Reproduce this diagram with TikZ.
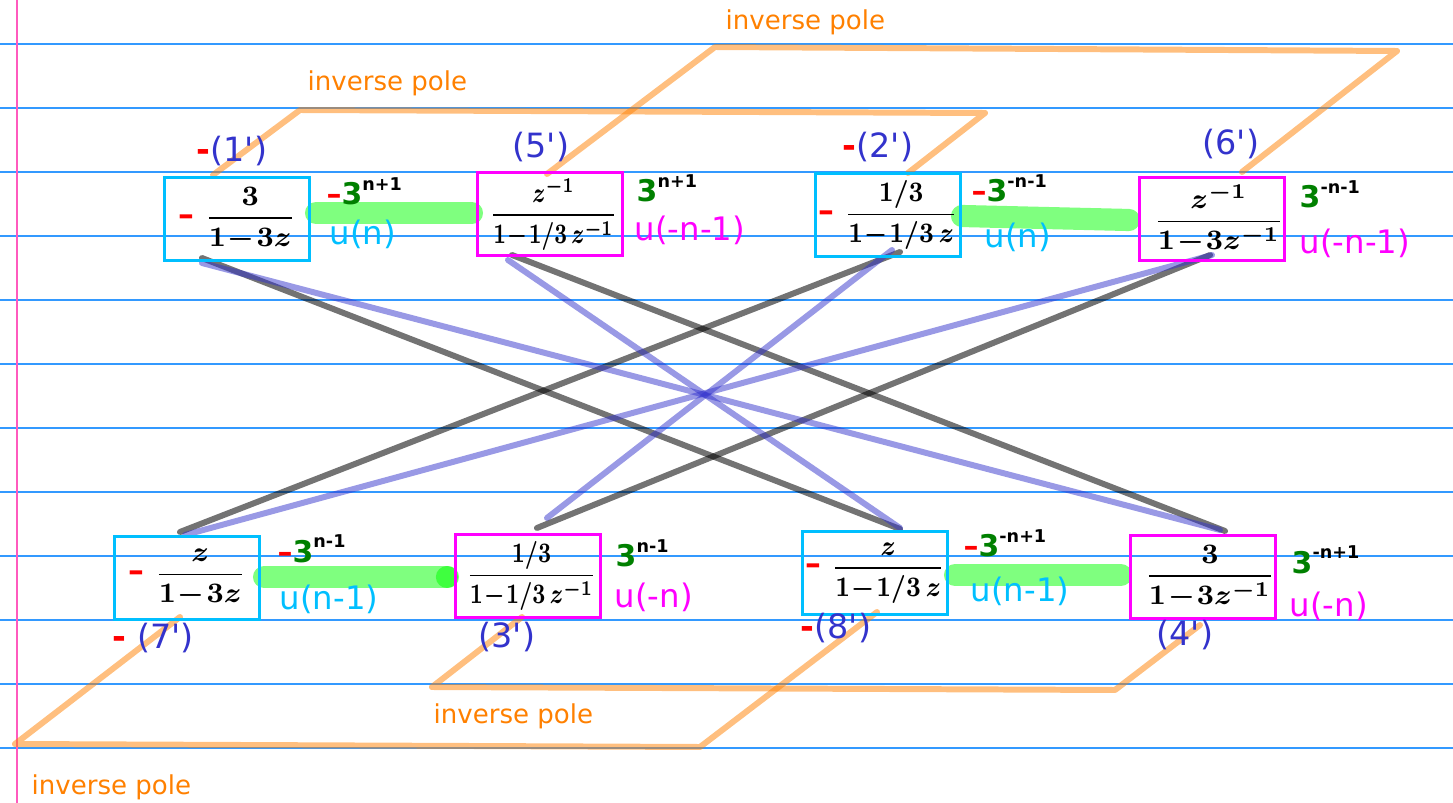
\documentclass[tikz,border=0pt]{standalone}
\usepackage{fontspec}
\setmainfont{DejaVu Sans}
\usepackage{amsmath}
\usepackage{graphicx}
\usetikzlibrary{calc,backgrounds}

\definecolor{zcyan}{RGB}{0,191,255}
\definecolor{zmag}{RGB}{255,0,255}
\definecolor{zblue}{RGB}{51,51,204}
\definecolor{zorange}{RGB}{255,128,0}
\definecolor{zgreen}{RGB}{0,128,0}
\definecolor{rulec}{RGB}{51,153,255}
\definecolor{marginc}{RGB}{255,90,190}

\newcommand{\mns}{\textcolor{red}{\textendash}}
\newcommand{\bmns}{\textcolor{red}{\fontsize{9}{9}\selectfont\bfseries\textendash}\hspace{3pt}}
\newcommand{\pw}[1]{\textcolor{zgreen}{3}\raisebox{4pt}{\fontsize{5}{6}\selectfont #1}}
\newcommand{\kp}[1]{(#1\textquotesingle)}
\newcommand{\sq}[2]{\scalebox{#1}[1]{#2}}

\begin{document}
\begin{tikzpicture}[x=0.01cm, y=-0.01cm,
cbox/.style={draw=zcyan, line width=0.85pt, minimum width=1.45cm, minimum height=0.83cm, inner sep=0pt, font=\fontsize{8}{9}\selectfont\boldmath},
mbox/.style={cbox, draw=zmag},
lbl/.style={inner sep=0pt, anchor=west, text=zblue, font=\fontsize{9.5}{11}\selectfont},
ulbl/.style={inner sep=0pt, anchor=west, font=\fontsize{9.2}{11}\selectfont},
pwr/.style={inner sep=0pt, anchor=base west, font=\fontsize{8.5}{10}\selectfont\bfseries},
ipl/.style={inner sep=0pt, anchor=west, text=zorange, font=\fontsize{7.4}{9}\selectfont},
pole/.style={draw=zorange, draw opacity=0.5, line width=1.7pt, line cap=round, line join=round},
hl/.style={draw=green, draw opacity=0.5, line width=6.3pt, line cap=round},
gline/.style={draw=black, draw opacity=0.55, line width=1.7pt, line cap=round},
bline/.style={draw=zblue, draw opacity=0.5, line width=1.7pt, line cap=round},
rl/.style={draw=rulec, line width=0.4pt}]
\useasboundingbox (0,0) rectangle (1453,803);

\node[cbox] (b1) at (237,219) {\bmns$\dfrac{3}{1\!-\!3z}$};
\node[mbox] (b5) at (550,214) {\hspace{2pt}\sq{0.74}{$\dfrac{z^{-1}}{1\!-\!1/3\,z^{-1}}$}};
\node[cbox] (b2) at (888,215) {\bmns\sq{0.86}{$\dfrac{1/3}{1\!-\!1/3\,z}$}};
\node[mbox] (b6) at (1212,219) {\hspace{4pt}$\dfrac{z^{-1}}{1\!-\!3z^{-1}}$};
\node[cbox] (b7) at (187,578) {\bmns$\dfrac{z}{1\!-\!3z}$};
\node[mbox] (b3) at (528,576) {\hspace{2pt}\sq{0.76}{$\dfrac{1/3}{1\!-\!1/3\,z^{-1}}$}};
\node[cbox] (b8) at (875,573) {\bmns\sq{0.86}{$\dfrac{z}{1\!-\!1/3\,z}$}};
\node[mbox] (b4) at (1203,577) {\hspace{4pt}$\dfrac{3}{1\!-\!3z^{-1}}$};

\node[lbl] (n1) at (196,151) {\textcolor{red}{\bfseries -}\kp{1}};
\node[lbl] (n5) at (512,147) {\kp{5}};
\node[lbl] (n2) at (842,147) {\textcolor{red}{\bfseries -}\kp{2}};
\node[lbl] (n6) at (1202,144) {\kp{6}};
\node[lbl] (n7) at (112,638) {\textcolor{red}{\bfseries -}\hspace{3pt}\kp{7}};
\node[lbl] (n3) at (478,637) {\kp{3}};
\node[lbl] (n8) at (800,628) {\textcolor{red}{\bfseries -}\kp{8}};
\node[lbl] (n4) at (1156,635) {\kp{4}};

\node[ulbl, text=zcyan] (u1) at (329,234) {u(n)};
\node[ulbl, text=zmag] (u5) at (634,230) {u(-n-1)};
\node[ulbl, text=zcyan] (u2) at (984,237) {u(n)};
\node[ulbl, text=zmag] (u6) at (1299,243) {u(-n-1)};
\node[ulbl, text=zcyan] (u7) at (279,599) {u(n-1)};
\node[ulbl, text=zmag] (u3) at (614,597) {u(-n)};
\node[ulbl, text=zcyan] (u8) at (970,591) {u(n-1)};
\node[ulbl, text=zmag] (u4) at (1289,606) {u(-n)};

\node[pwr] (p1) at (326,205) {\mns\pw{n+1}};
\node[pwr] (p5) at (636,202) {\pw{n+1}};
\node[pwr] (p2) at (971,202) {\mns\pw{-n-1}};
\node[pwr] (p6) at (1299,208) {\pw{-n-1}};
\node[pwr] (p7) at (277,562) {\mns\pw{n-1}};
\node[pwr] (p3) at (615,567) {\pw{n-1}};
\node[pwr] (p8) at (963,557) {\mns\pw{-n+1}};
\node[pwr] (p4) at (1291,573) {\pw{-n+1}};

\node[ipl] (ip1) at (307,83) {inverse pole};
\node[ipl] (ip2) at (725,22) {inverse pole};
\node[ipl] (ip3) at (433,716) {inverse pole};
\node[ipl] (ip4) at (31,787) {inverse pole};

\begin{scope}[on background layer]
\foreach \y in {44,108,...,748} \draw[rl] (0,\y) -- (1453,\y);
\draw[draw=marginc, line width=0.5pt] (17,0) -- (17,803);
\draw[pole] ([shift={(-24,-1)}]b1.north) -- (300,110) -- (985,113) -- ([shift={(20,1)}]b2.north);
\draw[pole] ([shift={(-3,3)}]b5.north) -- (715,47) -- (1397,51) -- ([shift={(30,-4)}]b6.north);
\draw[pole] ([shift={(-6,-2)}]b3.south) -- (432,687) -- (1115,690) -- ([shift={(-3,5)}]b4.south);
\draw[pole] ([shift={(-7,-4)}]b7.south) -- (15,744) -- (700,747) -- ([shift={(2,-4)}]b8.south);
\draw[gline] ([shift={(-35,-4)}]b1.south) -- ([shift={(25,-1)}]b8.north);
\draw[gline] ([shift={(-38,-2)}]b5.south) -- ([shift={(22,-3)}]b4.north);
\draw[gline] ([shift={(12,-6)}]b2.south) -- ([shift={(-7,-3)}]b7.north);
\draw[gline] ([shift={(-2,-7)}]b6.south) -- ([shift={(9,-5)}]b3.north);
\draw[bline] ([shift={(-35,1)}]b1.south) -- ([shift={(17,-4)}]b4.north);
\draw[bline] ([shift={(-42,3)}]b5.south) -- ([shift={(25,-2)}]b8.north);
\draw[bline] ([shift={(4,-8)}]b2.south) -- ([shift={(19,-15)}]b3.north);
\draw[bline] ([shift={(0,-7)}]b6.south) -- ([shift={(-2,0)}]b7.north);
\draw[hl] ([shift={(5,-6)}]b1.east) -- ([shift={(-4,-1)}]b5.west);
\draw[hl] ([shift={(0,1)}]b2.east) -- ([shift={(-9,1)}]b6.west);
\draw[hl] ([shift={(3,-1)}]b7.east) -- ([shift={(-7,1)}]b3.west);
\draw[hl] ([shift={(-7,1)}]b3.west) -- +(1,0);
\draw[hl] ([shift={(6,2)}]b8.east) -- ([shift={(-8,-2)}]b4.west);
\end{scope}
\end{tikzpicture}
\end{document}
